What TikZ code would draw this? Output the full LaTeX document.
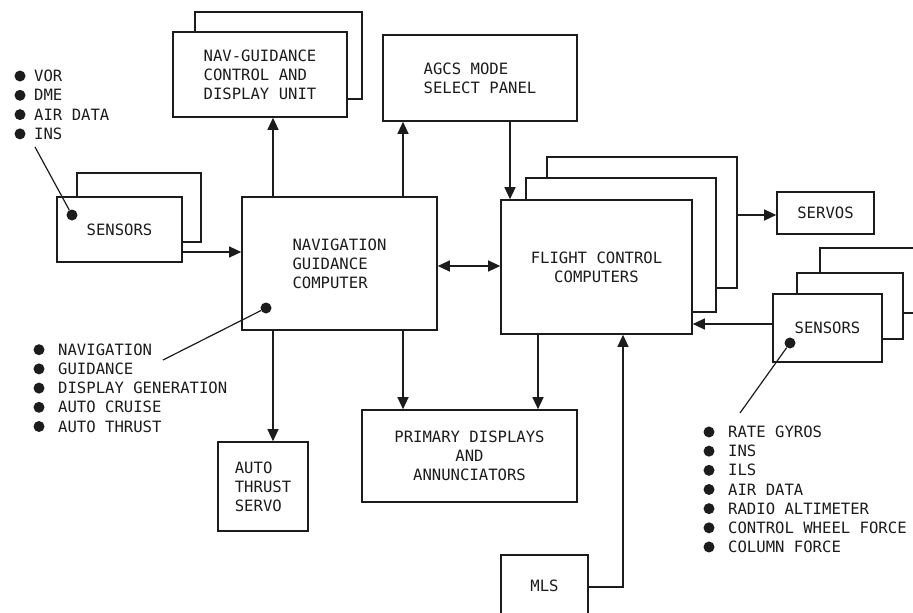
\documentclass[tikz,border=0pt]{standalone}
\usepackage{fontspec}
\usepackage{tikz}
\usetikzlibrary{arrows.meta}
\newfontfamily\letterfont{DejaVu Sans Mono}
\definecolor{PlotInk}{HTML}{1C1C1C}
\tikzset{
  >={Triangle[length=12pt,width=11pt]},
  lettering/.style={font=\letterfont\fontsize{15.6}{19}\selectfont,text=PlotInk},
  unitbox/.style={lettering,draw=PlotInk,line width=1.6pt,fill=white,inner sep=0pt},
  flow/.style={->,line width=1.2pt,draw=PlotInk},
  dualflow/.style={<->,line width=1.2pt,draw=PlotInk},
  leader/.style={line width=1.2pt,draw=PlotInk},
  dotmark/.style={circle,fill=PlotInk,inner sep=0pt,minimum size=11pt},
  itemtext/.style={lettering,anchor=west,inner sep=0pt}
}
\begin{document}
\begin{tikzpicture}[x=1pt,y=-1pt]
  \path[use as bounding box,fill=white] (0,0) rectangle (913,613);
  \clip (0,0) rectangle (913,613);
  % stacked back boxes
  \node[unitbox,minimum width=167pt,minimum height=87pt] (cduback) at (278.5,55.5) {};
  \node[unitbox,minimum width=124pt,minimum height=69pt] (sensLback) at (139,207.5) {};
  \node[unitbox,minimum width=190pt,minimum height=131pt] (fccback) at (642,222.5) {};
  \node[unitbox,minimum width=190pt,minimum height=134pt] (fccmid) at (621,245) {};
  \node[unitbox,minimum width=109pt,minimum height=65pt] (sensRback) at (874.5,280.5) {};
  \node[unitbox,minimum width=106pt,minimum height=66pt] (sensRmid) at (850,306) {};
  % main units
  \node[unitbox,minimum width=174pt,minimum height=85pt,align=left] (cdu) at (260,74.5) {NAV-GUIDANCE\\CONTROL AND\\DISPLAY UNIT};
  \node[unitbox,minimum width=194pt,minimum height=86pt,align=left] (agcs) at (480,78) {AGCS MODE\\SELECT PANEL};
  \node[unitbox,minimum width=125pt,minimum height=65pt] (sensL) at (119.5,229.5) {SENSORS};
  \node[unitbox,minimum width=195pt,minimum height=133pt,align=left] (nav) at (339.5,263.5) {NAVIGATION\\GUIDANCE\\COMPUTER};
  \node[unitbox,minimum width=191pt,minimum height=134pt,align=center] (fcc) at (596.5,267) {FLIGHT CONTROL\\COMPUTERS};
  \node[unitbox,minimum width=97pt,minimum height=42pt] (servos) at (825.5,213) {SERVOS};
  \node[unitbox,minimum width=109pt,minimum height=68pt] (sensR) at (827.5,328) {SENSORS};
  \node[unitbox,minimum width=215pt,minimum height=92pt,align=center] (prim) at (469.5,456) {PRIMARY DISPLAYS\\AND\\ANNUNCIATORS};
  \node[unitbox,minimum width=90pt,minimum height=89pt,align=left] (ats) at (263,486.5) {AUTO\\THRUST\\SERVO};
  \node[unitbox,minimum width=87pt,minimum height=62pt] (mls) at (544.5,586) {MLS};
  % signal flow
  \draw[flow] ([yshift=-22.5pt]sensL.east) coordinate (p1) -- (p1 -| nav.west);
  \draw[flow] ([xshift=-66.5pt]nav.north) coordinate (p2) -- (p2 |- cdu.south);
  \draw[flow] ([xshift=63.5pt]nav.north) coordinate (p3) -- (p3 |- agcs.south);
  \draw[flow] ([xshift=30pt]agcs.south) coordinate (p4) -- (p4 |- fcc.north);
  \draw[dualflow] ([yshift=-2.5pt]nav.east) coordinate (p5) -- (p5 -| fcc.west);
  \draw[flow] ([yshift=7.5pt]fccback.east) coordinate (p6) -- (p6 -| servos.west);
  \draw[flow] ([yshift=4pt]sensR.west) coordinate (p7) -- (p7 -| fcc.east);
  \draw[flow] ([xshift=-58.5pt]fcc.south) coordinate (p8) -- (p8 |- prim.north);
  \draw[flow] ([yshift=-1pt]mls.east) -| ([xshift=26.5pt]fcc.south);
  \draw[flow] ([xshift=63.5pt]nav.south) coordinate (p9) -- (p9 |- prim.north);
  \draw[flow] ([xshift=-66.5pt]nav.south) coordinate (p10) -- (p10 |- ats.north);
  % leaders to the function lists
  \node[dotmark] (sensLdot) at (72,215) {};
  \coordinate (sensLtip) at (35,147);
  \draw[leader] (sensLdot) -- (sensLtip);
  \node[dotmark] (navdot) at (266,308) {};
  \coordinate (navtip) at (163,360);
  \draw[leader] (navdot) -- (navtip);
  \node[dotmark] (sensRdot) at (790,343) {};
  \coordinate (sensRtip) at (740,413);
  \draw[leader] (sensRdot) -- (sensRtip);
  % function lists
  \foreach \t [count=\i] in {VOR,DME,AIR DATA,INS} {
    \node[dotmark] (srcdot\i) at (20,{56.7+19.3*\i}) {};
    \node[itemtext] (srcitem\i) at (34,{56.7+19.3*\i}) {\t};
  }
  \foreach \t [count=\i] in {NAVIGATION,GUIDANCE,DISPLAY GENERATION,AUTO CRUISE,AUTO THRUST} {
    \node[dotmark] (navdot\i) at (39,{330.5+19.2*\i}) {};
    \node[itemtext] (navitem\i) at (58,{330.5+19.2*\i}) {\t};
  }
  \foreach \t [count=\i] in {RATE GYROS,INS,ILS,AIR DATA,RADIO ALTIMETER,CONTROL WHEEL FORCE,COLUMN FORCE} {
    \node[dotmark] (fcsdot\i) at (709,{412.8+19.17*\i}) {};
    \node[itemtext] (fcsitem\i) at (728,{412.8+19.17*\i}) {\t};
  }
\end{tikzpicture}
\end{document}
